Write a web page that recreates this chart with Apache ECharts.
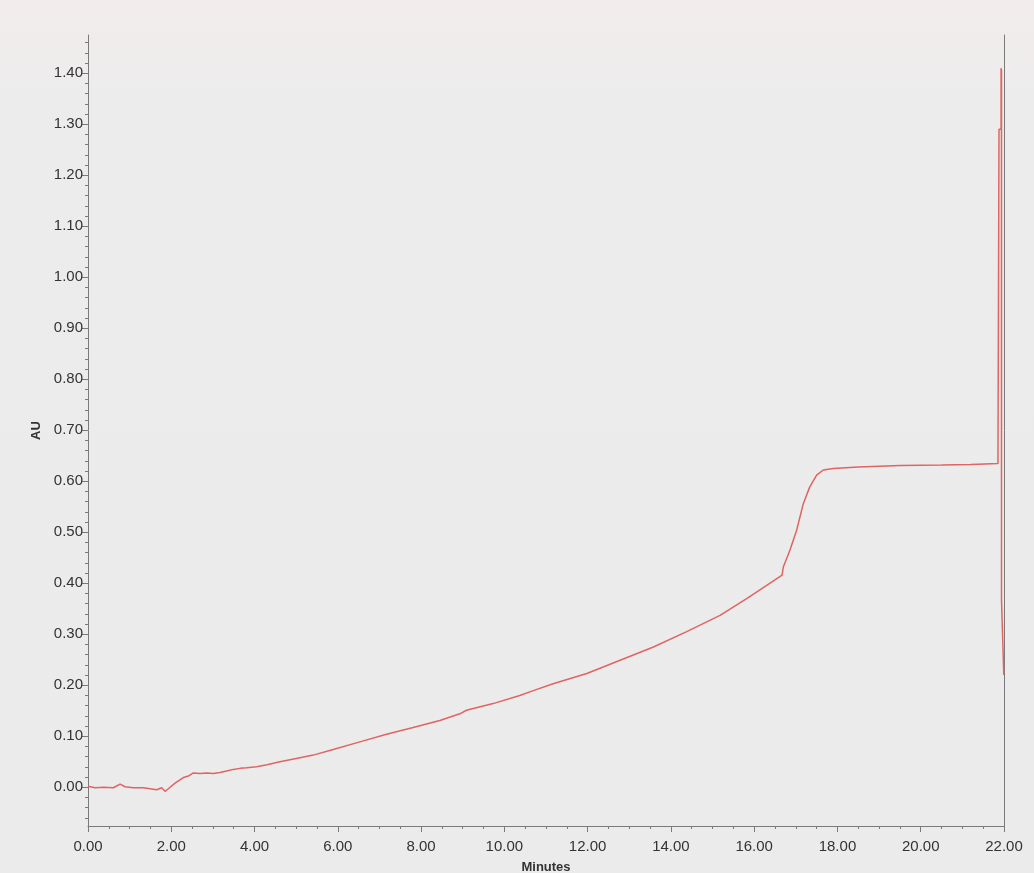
<!DOCTYPE html>
<html>
<head>
    <meta charset="utf-8">
    <title>AU vs Minutes</title>
    <script src="https://cdn.jsdelivr.net/npm/echarts@6/dist/echarts.min.js"></script>
    <style>
        html, body { margin: 0; padding: 0; }
        #chart1 { width: 1034px; height: 873px; }
    </style>
</head>
<body>
<div id="chart1"></div>

<script type="text/javascript">

    // retention time (minutes)
    var times = [
        0.00, 0.17, 0.37, 0.61, 0.77, 0.89, 1.09, 1.33, 1.49, 1.65, 1.77, 1.85, 1.93,
        2.09, 2.29, 2.41, 2.53, 2.69, 2.85, 3.01, 3.17, 3.33, 3.49, 3.65, 3.81, 4.05,
        4.30, 4.61, 5.09, 5.41, 5.89, 6.53, 7.17, 7.81, 8.45, 8.93, 9.09, 9.73, 10.37,
        10.61, 11.17, 11.98, 12.78, 13.58, 14.38, 15.18, 15.82, 16.30, 16.67, 16.70,
        16.86, 17.02, 17.18, 17.33, 17.50, 17.66, 17.90, 18.50, 19.50, 20.50, 21.20,
        21.855, 21.88, 21.93, 21.93, 21.94, 21.94, 21.995
    ];

    // absorbance (AU)
    var au = [
        0.002, -0.001, 0.000, -0.001, 0.006, 0.001, -0.001, -0.001, -0.003, -0.005, -0.001, -0.008, -0.003,
        0.008, 0.019, 0.022, 0.028, 0.027, 0.028, 0.027, 0.029, 0.032, 0.035, 0.037, 0.038, 0.040,
        0.044, 0.050, 0.058, 0.063, 0.074, 0.089, 0.104, 0.117, 0.131, 0.144, 0.151, 0.164, 0.180,
        0.187, 0.203, 0.223, 0.249, 0.275, 0.305, 0.337, 0.370, 0.396, 0.416, 0.432,
        0.465, 0.504, 0.556, 0.588, 0.612, 0.622, 0.625, 0.628, 0.631, 0.632, 0.633,
        0.635, 1.290, 1.290, 1.410, 1.405, 0.367, 0.220
    ];

    // tick labels
    var xMajor = [0, 2, 4, 6, 8, 10, 12, 14, 16, 18, 20, 22];
    var yMajor = [0.00, 0.10, 0.20, 0.30, 0.40, 0.50, 0.60, 0.70, 0.80, 0.90, 1.00, 1.10, 1.20, 1.30, 1.40];

    var xMinor = [];
    for (var i = 0; i <= 44; i++) { xMinor.push(i * 0.5); }
    var yMinor = [];
    for (var j = -3; j <= 73; j++) { yMinor.push(Math.round(j * 2) / 100); }

    var points = [];
    for (var k = 0; k < times.length; k++) { points.push([times[k], au[k]]); }

    var axisColor = '#7a7a7a';
    var textColor = '#333333';
    var X_MIN = 0, X_MAX = 22, Y_MIN = -0.076, Y_MAX = 1.475;

    var myChart1 = echarts.init(document.getElementById('chart1'));

    myChart1.setOption({
        backgroundColor: {
            type: 'linear', x: 0, y: 0, x2: 0, y2: 1,
            colorStops: [
                {offset: 0, color: '#f3ecec'},
                {offset: 0.12, color: '#ececec'},
                {offset: 1, color: '#ebebeb'}
            ]
        },
        animation: false,
        grid: {left: 88, right: 30, top: 35, bottom: 47, outerBoundsMode: 'none', containLabel: false},
        xAxis: [
            {
                type: 'value', min: X_MIN, max: X_MAX, position: 'bottom',
                name: 'Minutes', nameLocation: 'middle', nameGap: 35,
                nameTextStyle: {color: textColor, fontSize: 13, fontFamily: 'Arial', fontWeight: 'bold'},
                axisLine: {show: true, onZero: false, lineStyle: {color: axisColor, width: 1}},
                axisTick: {show: true, length: 6, customValues: xMajor, lineStyle: {color: axisColor}},
                axisLabel: {
                    customValues: xMajor, margin: 13, color: textColor, fontSize: 15, fontFamily: 'Arial',
                    formatter: function (v) { return v.toFixed(2); }
                },
                splitLine: {show: false}
            },
            {
                type: 'value', min: X_MIN, max: X_MAX, position: 'bottom',
                axisLine: {show: false, onZero: false},
                axisTick: {show: true, length: 3, customValues: xMinor, lineStyle: {color: axisColor}},
                axisLabel: {show: false},
                splitLine: {show: false}
            }
        ],
        yAxis: [
            {
                type: 'value', min: Y_MIN, max: Y_MAX, position: 'left',
                name: 'AU', nameLocation: 'middle', nameGap: 41, nameRotate: 90,
                nameTextStyle: {color: textColor, fontSize: 13, fontFamily: 'Arial', fontWeight: 'bold'},
                axisLine: {show: true, onZero: false, lineStyle: {color: axisColor, width: 1}},
                axisTick: {show: true, length: 6, customValues: yMajor, lineStyle: {color: axisColor}},
                axisLabel: {
                    customValues: yMajor, margin: 5, color: textColor, fontSize: 15, fontFamily: 'Arial',
                    formatter: function (v) { return v.toFixed(2); }
                },
                splitLine: {show: false}
            },
            {
                type: 'value', min: Y_MIN, max: Y_MAX, position: 'left',
                axisLine: {show: false, onZero: false},
                axisTick: {show: true, length: 3, customValues: yMinor, lineStyle: {color: axisColor}},
                axisLabel: {show: false},
                splitLine: {show: false}
            },
            {
                // right border line
                type: 'value', min: Y_MIN, max: Y_MAX, position: 'right',
                axisLine: {show: true, onZero: false, lineStyle: {color: axisColor, width: 1}},
                axisTick: {show: false},
                axisLabel: {show: false},
                splitLine: {show: false}
            }
        ],
        series: [{
            name: 'AU',
            type: 'line',
            xAxisIndex: 0,
            yAxisIndex: 0,
            data: points,
            showSymbol: false,
            smooth: false,
            lineStyle: {color: '#e06462', width: 1.5},
            itemStyle: {color: '#e06462'}
        }]
    });

</script>
</body>
</html>
